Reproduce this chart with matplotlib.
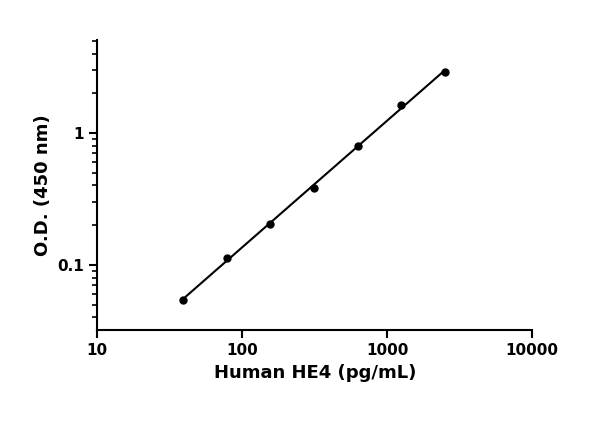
import numpy as np
import matplotlib
matplotlib.use("Agg")
import matplotlib.pyplot as plt
from matplotlib.ticker import LogLocator, NullFormatter, FixedLocator

concentration = [39.06, 78.13, 156.25, 312.5, 625, 1250, 2500]
od = [0.054, 0.113, 0.205, 0.383, 0.80, 1.63, 2.9]

fig = plt.figure(figsize=(6, 4.21), dpi=100)
ax = fig.add_axes([0.162, 0.216, 0.725, 0.689])

# log-log linear fit
lx, ly = np.log10(concentration), np.log10(od)
slope, icpt = np.polyfit(lx, ly, 1)
xf = np.array([concentration[0], concentration[-1]])
ax.plot(xf, 10 ** (icpt + slope * np.log10(xf)), color="black", lw=1.5)
ax.plot(concentration, od, "o", color="black", ms=5)

ax.set_xscale("log")
ax.set_yscale("log")
ax.set_xlim(10, 10000)
ax.set_ylim(0.032, 5.07)
ax.xaxis.set_major_locator(FixedLocator([10, 100, 1000, 10000]))
ax.set_xticklabels(["10", "100", "1000", "10000"])
ax.xaxis.set_minor_locator(FixedLocator([]))
ax.yaxis.set_major_locator(FixedLocator([0.1, 1]))
ax.set_yticklabels(["0.1", "1"])
ax.yaxis.set_minor_locator(LogLocator(subs=np.arange(2, 10)))
ax.yaxis.set_minor_formatter(NullFormatter())

for s in ["top", "right"]:
    ax.spines[s].set_visible(False)
for s in ["left", "bottom"]:
    ax.spines[s].set_linewidth(1.5)
ax.tick_params(which="major", width=1.5, length=6, labelsize=11)
ax.tick_params(which="minor", width=1.2, length=3.5)
for lab in ax.get_xticklabels() + ax.get_yticklabels():
    lab.set_fontweight("bold")

ax.set_xlabel("Human HE4 (pg/mL)", fontsize=13, fontweight="bold")
ax.set_ylabel("O.D. (450 nm)", fontsize=13, fontweight="bold")

fig.savefig("out.png", dpi=100)
